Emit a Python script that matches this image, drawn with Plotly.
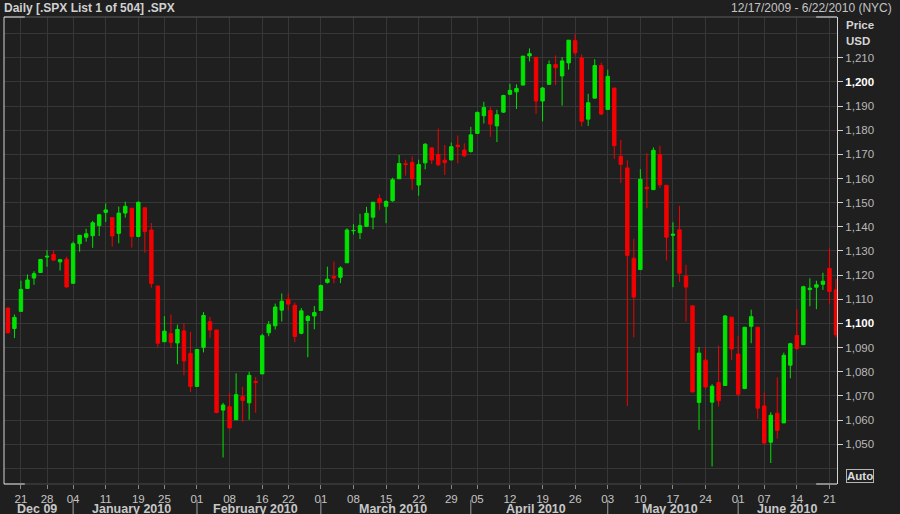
import pandas as pd
import plotly.graph_objects as go

# ---------------- data ----------------
holidays = ["2009-12-25", "2010-01-01", "2010-01-18", "2010-02-15", "2010-04-02", "2010-05-31"]
dates = [d.strftime("%Y-%m-%d") for d in pd.bdate_range("2009-12-17", "2010-06-22")
         if d.strftime("%Y-%m-%d") not in holidays]

opens = [
    1106.4, 1097.9, 1105.0, 1114.5, 1118.8, 1121.1, 1127.5, 1128.6, 1125.5, 1126.6,
    1116.6, 1133.0, 1135.7, 1136.3, 1140.5, 1146.0, 1143.8, 1137.3, 1145.7, 1147.7, 1136.0, 1147.9, 1138.7, 1115.5, 1092.4, 1095.8, 1091.9, 1096.9, 1087.6,
    1073.9, 1090.1, 1100.7, 1097.3, 1064.1, 1065.5, 1060.1, 1069.7, 1067.1, 1076.0, 1079.1, 1096.1, 1099.0, 1105.5, 1110.0, 1107.5, 1095.9, 1101.2, 1103.1,
    1105.4, 1117.0, 1119.4, 1119.1, 1125.1, 1138.4, 1137.6, 1140.2, 1144.0, 1151.7, 1148.5, 1150.8, 1159.9, 1166.1, 1166.7, 1157.3, 1166.5, 1172.7, 1170.0, 1167.6, 1167.7, 1173.8, 1171.8,
    1171.2, 1178.7, 1186.0, 1188.2, 1181.8, 1187.5, 1194.9, 1195.9, 1198.7, 1210.8, 1210.2, 1192.1, 1199.0, 1207.2, 1202.5, 1207.9, 1217.1, 1209.9, 1184.6, 1193.3, 1206.8,
    1188.6, 1197.5, 1169.2, 1164.4, 1127.0, 1122.3, 1156.4, 1155.4, 1170.0, 1157.2, 1136.5, 1138.8, 1119.6, 1107.3, 1067.3, 1084.8, 1067.4, 1075.5, 1074.3, 1102.6,
    1087.3, 1073.0, 1098.8, 1098.4, 1065.8, 1050.8, 1062.8, 1058.8, 1082.7, 1095.0, 1091.2, 1114.0, 1115.0, 1116.2, 1122.8, 1113.9,
]
highs = [
    1106.4, 1103.7, 1117.7, 1120.3, 1121.6, 1126.5, 1130.4, 1130.4, 1126.4, 1127.6,
    1133.9, 1136.6, 1139.2, 1142.5, 1145.4, 1149.7, 1143.8, 1148.4, 1150.4, 1147.7, 1150.5, 1147.9, 1141.6, 1115.5, 1103.0, 1103.7, 1099.5, 1100.2, 1096.5,
    1089.4, 1104.7, 1102.7, 1097.3, 1067.1, 1071.2, 1079.3, 1073.7, 1080.0, 1077.8, 1095.7, 1101.0, 1108.2, 1112.4, 1112.3, 1108.6, 1106.4, 1103.5, 1107.2,
    1116.1, 1123.5, 1125.6, 1123.7, 1139.4, 1141.1, 1145.4, 1148.3, 1150.2, 1153.4, 1151.0, 1160.3, 1169.8, 1167.8, 1169.2, 1167.8, 1174.7, 1173.0, 1180.7, 1173.9, 1174.9, 1177.8, 1174.6,
    1181.4, 1187.7, 1191.8, 1189.6, 1188.5, 1194.7, 1199.2, 1199.0, 1210.7, 1213.9, 1210.2, 1197.9, 1208.9, 1211.0, 1210.3, 1217.3, 1219.8, 1211.4, 1195.1, 1209.4, 1208.0,
    1205.1, 1197.5, 1176.0, 1167.6, 1135.1, 1163.9, 1170.5, 1172.9, 1173.6, 1157.2, 1141.9, 1148.7, 1124.3, 1107.3, 1090.2, 1090.0, 1074.8, 1090.8, 1103.5, 1102.6,
    1094.8, 1098.6, 1105.7, 1098.4, 1071.4, 1063.2, 1077.7, 1087.9, 1092.0, 1105.9, 1115.6, 1118.7, 1117.7, 1121.0, 1131.2, 1118.5,
]
lows = [
    1095.9, 1093.9, 1105.0, 1114.5, 1116.0, 1121.1, 1123.5, 1126.2, 1121.9, 1114.8,
    1116.6, 1129.7, 1133.9, 1131.3, 1136.2, 1142.0, 1131.8, 1133.2, 1143.8, 1131.4, 1135.7, 1129.3, 1114.8, 1090.2, 1092.4, 1089.9, 1083.1, 1078.5, 1071.6,
    1073.9, 1088.0, 1094.0, 1062.8, 1044.5, 1056.5, 1060.1, 1059.3, 1060.1, 1063.0, 1079.1, 1094.7, 1097.5, 1100.8, 1105.4, 1092.2, 1095.5, 1086.0, 1097.6,
    1105.4, 1116.5, 1116.6, 1116.7, 1125.1, 1136.8, 1134.9, 1140.1, 1139.0, 1147.0, 1141.5, 1150.4, 1159.9, 1161.2, 1155.3, 1152.9, 1163.8, 1166.0, 1165.1, 1161.5, 1167.7, 1166.3, 1168.9,
    1170.7, 1178.7, 1182.8, 1177.3, 1175.1, 1187.2, 1194.7, 1188.8, 1198.7, 1208.5, 1186.8, 1183.7, 1199.0, 1198.8, 1190.2, 1205.1, 1211.1, 1181.6, 1181.8, 1193.3, 1186.3,
    1188.6, 1168.1, 1158.2, 1065.8, 1094.2, 1122.3, 1147.7, 1155.4, 1156.1, 1126.1, 1115.0, 1117.2, 1100.7, 1071.6, 1055.9, 1072.7, 1040.8, 1065.6, 1074.3, 1084.8,
    1069.9, 1072.9, 1091.8, 1060.5, 1049.9, 1042.2, 1052.3, 1058.8, 1077.3, 1089.0, 1091.2, 1107.1, 1105.9, 1113.9, 1108.2, 1094.2,
]
closes = [
    1096.1, 1102.5, 1114.1, 1118.0, 1120.6, 1126.5, 1127.8, 1126.2, 1126.4, 1115.1,
    1133.0, 1136.5, 1137.1, 1141.7, 1145.0, 1147.0, 1136.2, 1145.7, 1148.5, 1136.0, 1150.2, 1138.0, 1116.5, 1091.8, 1096.8, 1092.2, 1097.5, 1084.5, 1073.9,
    1089.2, 1103.3, 1097.3, 1063.1, 1066.2, 1056.7, 1070.5, 1068.1, 1078.5, 1075.5, 1094.9, 1099.5, 1106.8, 1109.2, 1108.0, 1094.6, 1105.2, 1102.9, 1104.5,
    1115.7, 1118.3, 1118.8, 1123.0, 1138.7, 1138.5, 1140.5, 1145.6, 1150.2, 1150.0, 1150.5, 1159.5, 1166.2, 1165.8, 1159.9, 1165.8, 1174.2, 1167.7, 1165.7, 1166.6, 1173.2, 1173.3, 1169.4,
    1178.1, 1187.4, 1189.4, 1182.5, 1186.4, 1194.4, 1196.5, 1197.3, 1210.7, 1211.7, 1192.1, 1197.5, 1207.2, 1205.9, 1208.7, 1217.3, 1212.1, 1183.7, 1191.4, 1206.8, 1186.7,
    1202.3, 1173.6, 1165.9, 1128.2, 1110.9, 1159.7, 1155.8, 1171.7, 1157.4, 1135.7, 1136.9, 1120.8, 1115.1, 1071.6, 1087.7, 1073.7, 1074.0, 1068.0, 1103.1, 1089.4,
    1070.7, 1098.4, 1102.8, 1064.9, 1050.5, 1062.0, 1055.7, 1086.8, 1091.6, 1089.6, 1115.2, 1114.6, 1116.0, 1117.5, 1113.2, 1095.3,
]

tick_dates = ["2009-12-21", "2009-12-28", "2010-01-04", "2010-01-11", "2010-01-19", "2010-01-25",
              "2010-02-01", "2010-02-08", "2010-02-16", "2010-02-22", "2010-03-01", "2010-03-08",
              "2010-03-15", "2010-03-22", "2010-03-29", "2010-04-05", "2010-04-12", "2010-04-19",
              "2010-04-26", "2010-05-03", "2010-05-10", "2010-05-17", "2010-05-24", "2010-06-01",
              "2010-06-07", "2010-06-14", "2010-06-21"]
tick_text = [d[-2:] for d in tick_dates]

month_labels = ["Dec 09", "January 2010", "February 2010", "March 2010", "April 2010", "May 2010", "June 2010"]
month_keys = ["2009-12", "2010-01", "2010-02", "2010-03", "2010-04", "2010-05", "2010-06"]

price_ticks = [1050, 1060, 1070, 1080, 1090, 1100, 1110, 1120, 1130, 1140,
               1150, 1160, 1170, 1180, 1190, 1200, 1210]
bold_ticks = [1100, 1200]

# ---------------- style ----------------
BG = "#1f1f1f"
GRID = "#373737"
GREEN = "#00e400"
RED = "#f40000"
FONT = "Liberation Sans"

fig = go.Figure()
fig.add_trace(go.Candlestick(
    x=dates, open=opens, high=highs, low=lows, close=closes,
    increasing=dict(line=dict(color=GREEN, width=1), fillcolor=GREEN),
    decreasing=dict(line=dict(color=RED, width=1), fillcolor=RED),
    whiskerwidth=0, name=".SPX",
))

def ytext(v):
    s = f"{v:,}"
    if v in bold_ticks:
        return f'<span style="color:#ffffff"><b>{s}</b></span>'
    return s

n = len(dates)
fig.update_layout(
    width=900, height=514,
    margin=dict(l=4, r=63, t=17, b=30, autoexpand=False),
    paper_bgcolor=BG, plot_bgcolor=BG,
    showlegend=False,
    boxgap=0.25,
    font=dict(family=FONT, color="#c0c0c0", size=11),
    xaxis=dict(
        type="category", range=[-0.6, n - 0.84],
        rangeslider=dict(visible=False),
        tickmode="array", tickvals=tick_dates, ticktext=tick_text,
        ticks="outside", ticklen=4, tickcolor="#8a8a8a", tickwidth=1,
        tickfont=dict(family=FONT, size=11.5, color="#c4c4c4"),
        showgrid=True, gridcolor=GRID, gridwidth=1,
        showline=False, zeroline=False, automargin=False,
    ),
    yaxis=dict(
        side="right", range=[1033.5, 1226.9],
        tickmode="array", tickvals=price_ticks, ticktext=[ytext(v) for v in price_ticks],
        ticks="outside", ticklen=5, tickcolor="#cfcfcf", tickwidth=1,
        tickfont=dict(family=FONT, size=11.5, color="#b8b8b8"),
        showgrid=True, gridcolor=GRID, gridwidth=1,
        showline=True, linecolor="#d4d4d4", linewidth=1,
        zeroline=False, automargin=False,
        minor=dict(tickmode="array", tickvals=[1040, 1220], showgrid=True,
                   gridcolor=GRID, ticks=""),
    ),
)

# frame
shapes = [
    dict(type="line", xref="paper", yref="paper", x0=0, x1=1, y0=1, y1=1, line=dict(color="#5c5c5c", width=1)),
    dict(type="line", xref="paper", yref="paper", x0=0, x1=1, y0=0, y1=0, line=dict(color="#4a4a4a", width=1)),
    dict(type="line", xref="paper", yref="paper", x0=0, x1=0, y0=0, y1=1, line=dict(color="#d4d4d4", width=1)),
    dict(type="line", xref="paper", yref="paper", x0=0, x1=0.025, y0=1, y1=1, line=dict(color="#e0e0e0", width=1)),
    dict(type="line", xref="paper", yref="paper", x0=0.975, x1=1, y0=1, y1=1, line=dict(color="#e0e0e0", width=1)),
    dict(type="line", xref="paper", yref="paper", x0=0, x1=0.025, y0=0, y1=0, line=dict(color="#e0e0e0", width=1)),
    dict(type="line", xref="paper", yref="paper", x0=0.975, x1=1, y0=0, y1=0, line=dict(color="#e0e0e0", width=1)),
]
annotations = []
for lab, key in zip(month_labels, month_keys):
    idx = [i for i, d in enumerate(dates) if d.startswith(key)]
    first, last = idx[0], idx[-1]
    if first > 0:
        shapes.append(dict(type="line", xref="x", yref="paper", x0=first, x1=first,
                           y0=-0.034, y1=-0.066, line=dict(color="#a0a0a0", width=1)))
    annotations.append(dict(text=f"<b>{lab}</b>", xref="x", yref="paper", x=(first + last) / 2,
                            y=-0.0535, xanchor="center", yanchor="middle", showarrow=False,
                            font=dict(family=FONT, size=12.5, color="#c8c8c8")))

annotations += [
    dict(text="<b>Daily [.SPX List 1 of 504] .SPX</b>", xref="paper", yref="paper", x=0, xshift=-2,
         y=1.0193, xanchor="left", yanchor="middle", showarrow=False,
         font=dict(family=FONT, size=12, color="#d0d0d0")),
    dict(text="12/17/2009 - 6/22/2010 (NYC)", xref="paper", yref="paper", x=1.069,
         y=1.0193, xanchor="right", yanchor="middle", showarrow=False,
         font=dict(family=FONT, size=12, color="#c4c4c4")),
    dict(text="<b>Price</b>", xref="paper", yref="paper", x=1.009, y=0.9818,
         xanchor="left", yanchor="middle", showarrow=False,
         font=dict(family=FONT, size=11.5, color="#d4d4d4")),
    dict(text="<b>USD</b>", xref="paper", yref="paper", x=1.009, y=0.9486,
         xanchor="left", yanchor="middle", showarrow=False,
         font=dict(family=FONT, size=11.5, color="#d4d4d4")),
    dict(text="<b>Auto</b>", xref="paper", yref="paper", x=1.0276, y=0.0171,
         xanchor="center", yanchor="middle", showarrow=False,
         bordercolor="#b4b4b4", borderwidth=1, borderpad=0, bgcolor=BG,
         font=dict(family=FONT, size=11.5, color="#dcdcdc")),
]
fig.update_layout(shapes=shapes, annotations=annotations)

fig.write_html("out.html",
               config={"displayModeBar": False},
               post_script="document.body.style.margin='0px';document.body.style.overflow='hidden';"
                           "document.body.style.background='" + BG + "';")
